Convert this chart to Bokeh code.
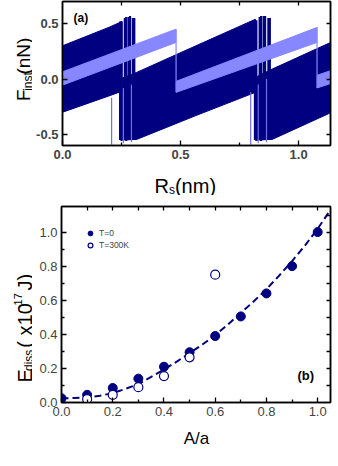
import math
from bokeh.plotting import figure
from bokeh.models import (Range1d, FixedTicker, PrintfTickFormatter, LinearAxis,
                          Label, Legend, LegendItem)
from bokeh.layouts import column, row
from bokeh.embed import file_html
from bokeh.resources import INLINE

NAVY = "#000080"
LAV = "#8787ff"
LIGHT = "#6f6fe6"
FONT = "Liberation Sans"

# ---------------- panel (a) data: envelopes of the oscillating force traces
sec1_x = [0.0, 0.20, 0.252]
sec1_top = [0.30, 0.47, 0.52]
sec1_bot = [-0.30, -0.15, -0.11]
sec2_x = [0.255, 0.314, 0.565, 0.817]
sec2_top = [0.01, 0.06, 0.30, 0.54]
sec2_bot = [-0.55, -0.545, -0.33, -0.12]
sec3_x = [0.822, 0.888, 1.135]
sec3_top = [0.02, 0.09, 0.33]
sec3_bot = [-0.55, -0.545, -0.305]

lav1_x = [0.0, 0.48]
lav1_top = [0.065, 0.45]
lav1_bot = [-0.055, 0.33]
lav2_x = [0.482, 1.077]
lav2_top = [-0.02, 0.465]
lav2_bot = [-0.12, 0.33]
lav3_x = [1.079, 1.135]
lav3_top = [0.035, 0.075]
lav3_bot = [-0.08, -0.04]

slip_x = [0.244, 0.250, 0.264, 0.270, 0.280, 0.286, 0.298, 0.304,
          0.815, 0.821, 0.835, 0.841, 0.852, 0.858, 0.872, 0.878]
slip_lo = [-0.55, -0.56, -0.55, -0.56, -0.55, -0.55, -0.54, -0.54,
           -0.55, -0.56, -0.55, -0.56, -0.55, -0.55, -0.54, -0.54]
slip_hi = [0.52, 0.52, 0.55, 0.56, 0.56, 0.57, 0.55, 0.55,
           0.53, 0.53, 0.56, 0.57, 0.57, 0.57, 0.55, 0.55]
spike_x = [0.208, 0.258, 0.292, 0.797, 0.829, 0.864]
spike_lo = [-0.60, -0.58, -0.57, -0.60, -0.58, -0.57]
spike_hi = [-0.17, -0.08, -0.05, -0.12, -0.05, 0.0]
drop_x = [0.481, 1.078]
drop_lo = [-0.12, -0.08]
drop_hi = [0.45, 0.47]

a_xticks = [0.0, 0.5, 1.0]
a_xminor = [0.25, 0.75]
a_xtop = [0.25, 0.5, 0.75, 1.0]
a_yticks = [-0.5, 0.0, 0.5]

# ---------------- panel (b) data
t0_x = [0.0, 0.1, 0.2, 0.3, 0.4, 0.5, 0.6, 0.7, 0.8, 0.9, 1.0]
t0_y = [0.025, 0.045, 0.085, 0.14, 0.21, 0.295, 0.39, 0.505, 0.64, 0.80, 1.00]
t300_x = [0.1, 0.2, 0.3, 0.4, 0.5, 0.6]
t300_y = [0.02, 0.045, 0.09, 0.155, 0.265, 0.75]
fit_x = [0.0, 0.05, 0.1, 0.15, 0.2, 0.25, 0.3, 0.35, 0.4, 0.45, 0.5, 0.55,
         0.6, 0.65, 0.7, 0.75, 0.8, 0.85, 0.9, 0.95, 1.0, 1.05]
fit_y = [0.025, 0.026, 0.03, 0.04, 0.055, 0.08, 0.108, 0.15, 0.193, 0.24,
         0.29, 0.34, 0.395, 0.458, 0.525, 0.593, 0.665, 0.745, 0.83, 0.92,
         1.02, 1.13]
b_ticks = [0.0, 0.2, 0.4, 0.6, 0.8, 1.0]
b_minor = [0.1, 0.3, 0.5, 0.7, 0.9]
b_all = [0.1, 0.2, 0.3, 0.4, 0.5, 0.6, 0.7, 0.8, 0.9, 1.0, 1.1]

# ---------------- helpers
W = {'F': .611, 'R': .722, 'E': .667, 'A': .667, '(': .333, ')': .333, 'n': .556,
     'N': .722, 'm': .833, 'i': .222, 's': .5, 't': .278, 'd': .556, ' ': .278,
     'x': .5, '1': .556, '0': .556, '-': .333, '7': .556, 'J': .5, '/': .278, 'a': .556}


def tw(s, size):
    return sum(W.get(c, .556) for c in s) * size


def mapper(xr, yr, frame):
    left, top, right, bottom = frame

    def f(px, py):
        x = xr[0] + (px - left) / (right - left) * (xr[1] - xr[0])
        y = yr[1] - (py - top) / (bottom - top) * (yr[1] - yr[0])
        return x, y
    return f


def put(p, m, px, py, text, size, angle=0.0, bold=False, align="left"):
    x, y = m(px, py)
    p.add_layout(Label(x=x, y=y, text=text, text_font=FONT,
                       text_font_size=f"{size}px", angle=angle,
                       text_font_style="bold" if bold else "normal",
                       text_color="black", text_align=align,
                       text_baseline="alphabetic"))


def rich(p, m, px, py, pieces, vertical=False):
    # leading spaces are turned into an explicit advance (SVG collapses them)
    for text, size, shift in pieces:
        lead = len(text) - len(text.lstrip(" "))
        adv = tw(" " * lead, size)
        body = text.lstrip(" ")
        if vertical:
            py -= adv
            put(p, m, px + shift, py, body, size, angle=math.pi / 2)
            py -= tw(body, size)
        else:
            px += adv
            put(p, m, px, py + shift, body, size)
            px += tw(body, size)


def style_axis(ax, size="13px", bold=False):
    ax.axis_line_color = "black"
    ax.axis_line_width = 1.5
    ax.major_tick_in = 5
    ax.major_tick_out = 0
    ax.minor_tick_in = 3
    ax.minor_tick_out = 0
    ax.major_tick_line_width = 1.3
    ax.minor_tick_line_width = 1.3
    ax.major_tick_line_color = "black"
    ax.minor_tick_line_color = "black"
    ax.major_label_text_font = FONT
    ax.major_label_text_font_size = size
    ax.major_label_text_font_style = "bold" if bold else "normal"
    ax.major_label_standoff = 4


def tick_only_axis(positions):
    # ticks without labels: every tick is a "minor" one, so no label is drawn
    ax = LinearAxis(ticker=FixedTicker(ticks=[], minor_ticks=positions))
    ax.axis_line_color = "black"
    ax.axis_line_width = 1.5
    ax.minor_tick_in = 4
    ax.minor_tick_out = 0
    ax.minor_tick_line_width = 1.3
    ax.minor_tick_line_color = "black"
    ax.major_tick_in = 0
    ax.major_tick_out = 0
    ax.major_label_standoff = 0
    return ax


def base_fig(w, h, xr, yr, bl, br, bt, bb):
    p = figure(width=w, height=h, x_range=Range1d(*xr), y_range=Range1d(*yr),
               output_backend="svg", toolbar_location=None,
               min_border_left=bl, min_border_right=br, min_border_top=bt,
               min_border_bottom=bb)
    p.xgrid.visible = False
    p.ygrid.visible = False
    p.outline_line_color = "black"
    p.outline_line_width = 1.5
    p.background_fill_color = "white"
    p.border_fill_color = "white"
    return p


def aux_fig(w, h, page_left, page_top):
    p = figure(width=w, height=h, x_range=Range1d(0, w), y_range=Range1d(0, h),
               output_backend="svg", toolbar_location=None,
               x_axis_location=None, y_axis_location=None,
               min_border=0, min_border_left=0, min_border_right=0,
               min_border_top=0, min_border_bottom=0)
    p.xgrid.visible = False
    p.ygrid.visible = False
    p.outline_line_color = None
    p.background_fill_color = "white"
    p.border_fill_color = "white"

    def m(px, py):
        return px - page_left, h - (py - page_top)
    return p, m


# ================= panel (a)   (page rows 8..173, columns 0..332)
XA = (0.0, 1.135)
YA = (-0.6, 0.7)
p1 = base_fig(300, 165, XA, YA, 30, 2, 1, 20)
FR1 = (62, 9, 330, 154)
m1 = mapper(XA, YA, FR1)

for xs, top, bot in [(sec1_x, sec1_top, sec1_bot), (sec2_x, sec2_top, sec2_bot),
                     (sec3_x, sec3_top, sec3_bot)]:
    p1.patch(xs + xs[::-1], top + bot[::-1], fill_color=NAVY, line_color=NAVY,
             line_width=1)
p1.segment(x0=slip_x, y0=slip_lo, x1=slip_x, y1=slip_hi, line_color=NAVY,
           line_width=2.2)
p1.segment(x0=spike_x, y0=spike_lo, x1=spike_x, y1=spike_hi, line_color=LIGHT,
           line_width=1.2)
for xs, top, bot in [(lav1_x, lav1_top, lav1_bot), (lav2_x, lav2_top, lav2_bot),
                     (lav3_x, lav3_top, lav3_bot)]:
    p1.patch(xs + xs[::-1], top + bot[::-1], fill_color=LAV, line_color=LAV,
             line_width=1)
p1.segment(x0=drop_x, y0=drop_lo, x1=drop_x, y1=drop_hi, line_color=LAV,
           line_width=1.2)

p1.xaxis.ticker = FixedTicker(ticks=a_xticks, minor_ticks=a_xminor)
p1.yaxis.ticker = FixedTicker(ticks=a_yticks, minor_ticks=[])
p1.xaxis.formatter = PrintfTickFormatter(format="%.1f")
p1.yaxis.formatter = PrintfTickFormatter(format="%.1f")
style_axis(p1.xaxis[0], bold=True)
style_axis(p1.yaxis[0], bold=True)
p1.add_layout(tick_only_axis(a_xtop), "above")
p1.add_layout(tick_only_axis(a_yticks), "right")

put(p1, m1, 73, 26, "(a)", 12, bold=True)

ya1, n1 = aux_fig(32, 165, 0, 8)
rich(ya1, n1, 23, 122, [("F", 19, 0), ("inst", 12, 4), ("(nN)", 19, 0)],
     vertical=True)
xt1, k1 = aux_fig(332, 30, 0, 173)
rich(xt1, k1, 154, 193, [("R", 20, 0), ("s", 12, 4), ("(nm)", 20, 0)])

# ================= panel (b)   (page rows 203..452)
XB = (0.0, 1.05)
YB = (0.0, 1.15)
p2 = base_fig(300, 226, XB, YB, 29, 2, 11, 19)
FR2 = (61, 214, 330, 410)
m2 = mapper(XB, YB, FR2)

p2.line(fit_x, fit_y, line_color=NAVY, line_width=2, line_dash="7 4")
r0 = p2.scatter(t0_x, t0_y, size=9, marker="circle", fill_color=NAVY,
                line_color=NAVY)
r300 = p2.scatter(t300_x, t300_y, size=9, marker="circle", fill_color="white",
                  line_color=NAVY, line_width=1.2)

p2.xaxis.ticker = FixedTicker(ticks=b_ticks, minor_ticks=b_minor)
p2.yaxis.ticker = FixedTicker(ticks=b_ticks, minor_ticks=b_minor)
p2.xaxis.formatter = PrintfTickFormatter(format="%.1f")
p2.yaxis.formatter = PrintfTickFormatter(format="%.1f")
style_axis(p2.xaxis[0])
style_axis(p2.yaxis[0])
p2.add_layout(tick_only_axis(b_all), "above")
p2.add_layout(tick_only_axis(b_all), "right")

legend = Legend(items=[LegendItem(label="T=0", renderers=[r0]),
                       LegendItem(label="T=300K", renderers=[r300])],
                location="top_left", margin=21, padding=1, spacing=0,
                glyph_width=16, glyph_height=12, label_height=10,
                label_standoff=1, label_text_font=FONT,
                label_text_font_size="8.5px", border_line_color=None,
                background_fill_alpha=0)
p2.add_layout(legend)

put(p2, m2, 297, 383, "(b)", 13, bold=True)

ya2, n2 = aux_fig(32, 226, 0, 203)
rich(ya2, n2, 24, 406, [("E", 20, 0), ("diss", 12, 4), (" ( x10", 20, 0),
                        ("-17", 11, -7), (" J)", 20, 0)], vertical=True)
xt2, k2 = aux_fig(332, 23, 0, 429)
put(xt2, k2, 196, 446, "A/a", 17, align="center")

layout = column(row(ya1, p1), xt1, row(ya2, p2), xt2)
open("out.html", "w").write(file_html(layout, INLINE))
